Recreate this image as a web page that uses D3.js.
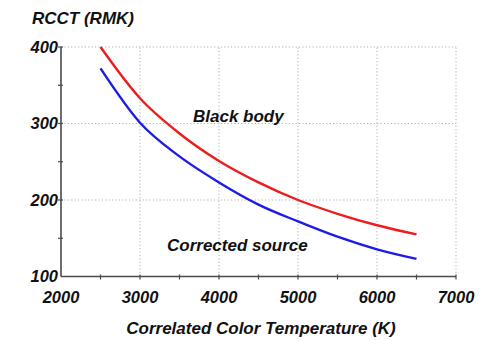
<!DOCTYPE html>
<html>
<head>
<meta charset="utf-8">
<script src="https://cdn.jsdelivr.net/npm/d3@7"></script>
<style>
  html, body { margin: 0; padding: 0; background: #fff; }
  svg { display: block; }
  text { font-family: "Liberation Sans", Arial, sans-serif; font-style: italic; font-weight: bold; fill: #111; }
</style>
</head>
<body>
<svg id="chart" width="495" height="341"></svg>
<script>
// Reciprocal correlated colour temperature (mireds) vs CCT
const temps = [2500, 3000, 3500, 4000, 4500, 5000, 5500, 6000, 6500];
const blackBody = [400, 333, 287, 251, 223, 200, 182, 167, 155];
const correctedSource = [372, 301, 257, 223, 194, 172, 152, 135.5, 123];

const xTicks = [2000, 3000, 4000, 5000, 6000, 7000];
const yTicks = [100, 200, 300, 400];
const xMinor = [2500, 3500, 4500, 5500, 6500];
const yMinor = [150, 250, 350];

const svg = d3.select("#chart");
const x = d3.scaleLinear().domain([2000, 7000]).range([61, 456]);
const y = d3.scaleLinear().domain([100, 400]).range([276.5, 47]);

// dotted grid (including top and right border)
const grid = svg.append("g").attr("stroke", "#b0b0b0").attr("stroke-width", 1)
  .attr("stroke-dasharray", "1.2,2.2");
grid.selectAll("line.v").data(xTicks.slice(1)).join("line")
  .attr("x1", d => x(d)).attr("x2", d => x(d)).attr("y1", y(100)).attr("y2", y(400));
grid.selectAll("line.h").data(yTicks.slice(1)).join("line")
  .attr("x1", x(2000)).attr("x2", x(7000)).attr("y1", d => y(d)).attr("y2", d => y(d));

// solid axes
const axisColor = "#4a4a4a";
const axes = svg.append("g").attr("stroke", axisColor).attr("stroke-width", 1.6);
axes.append("line").attr("x1", x(2000)).attr("x2", x(7000)).attr("y1", y(100)).attr("y2", y(100));
axes.append("line").attr("x1", x(2000)).attr("x2", x(2000)).attr("y1", y(100)).attr("y2", y(400));
axes.selectAll("line.xt").data(xMinor.concat(xTicks.slice(1))).join("line")
  .attr("x1", d => x(d)).attr("x2", d => x(d)).attr("y1", y(100) - 2).attr("y2", y(100) + 3)
  .attr("stroke-width", 1.2);
axes.selectAll("line.yt").data(yMinor.concat(yTicks.slice(1))).join("line")
  .attr("x1", x(2000) - 3).attr("x2", x(2000) + 2).attr("y1", d => y(d)).attr("y2", d => y(d))
  .attr("stroke-width", 1.2);

// tick labels
svg.append("g").selectAll("text").data(xTicks).join("text")
  .attr("x", d => x(d)).attr("y", 303).attr("text-anchor", "middle")
  .style("font-size", "16.5px").text(d => d);
svg.append("g").selectAll("text").data(yTicks).join("text")
  .attr("x", 58).attr("y", d => y(d)).attr("dy", "0.36em").attr("text-anchor", "end")
  .style("font-size", "16.5px").text(d => d);

// curves
const line = (vals) => d3.line()
  .x((d, i) => x(temps[i])).y(d => y(d))
  .curve(d3.curveMonotoneX)(vals);
svg.append("path").attr("d", line(blackBody))
  .attr("fill", "none").attr("stroke", "#ee1c1c").attr("stroke-width", 2.4);
svg.append("path").attr("d", line(correctedSource))
  .attr("fill", "none").attr("stroke", "#1c1ce6").attr("stroke-width", 2.4);

// annotations and titles
svg.append("text").attr("x", 193).attr("y", 122).style("font-size", "17px").text("Black body");
svg.append("text").attr("x", 167).attr("y", 251).style("font-size", "17px").text("Corrected source");
svg.append("text").attr("x", 32).attr("y", 24).style("font-size", "17px").text("RCCT (RMK)");
svg.append("text").attr("x", 261).attr("y", 334).attr("text-anchor", "middle")
  .style("font-size", "17px").text("Correlated Color Temperature (K)");
</script>
</body>
</html>
